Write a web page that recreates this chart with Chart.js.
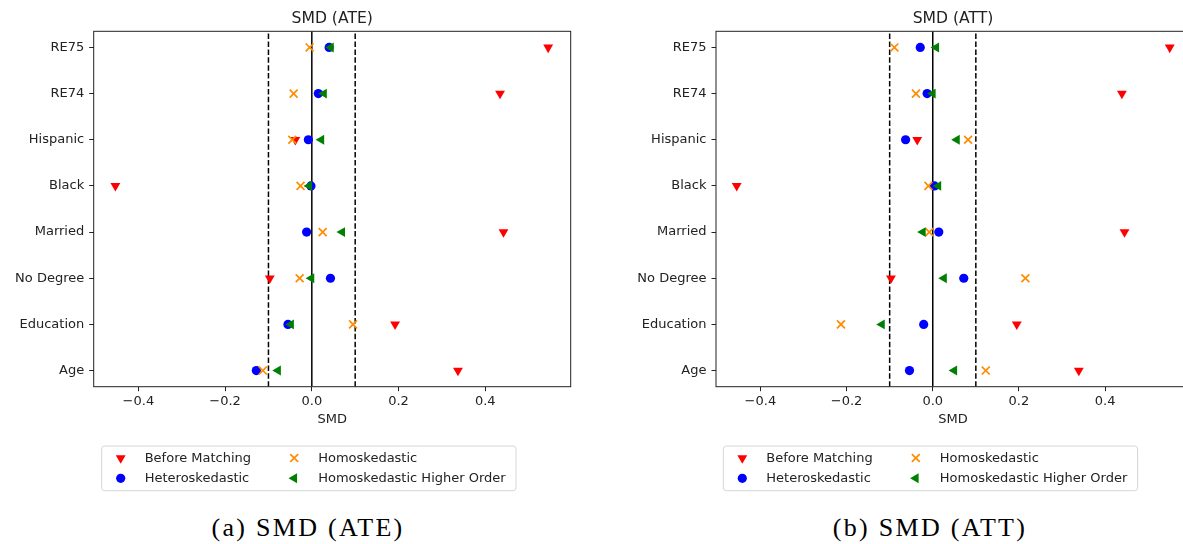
<!DOCTYPE html>
<html>
<head>
<meta charset="utf-8">
<script src="https://cdn.jsdelivr.net/npm/chart.js@4.4.1/dist/chart.umd.min.js"></script>
<style>
  html, body { margin: 0; padding: 0; background: #fff; overflow: hidden; }
  #wrap { position: relative; width: 1183px; height: 544px; overflow: hidden; }
  canvas { position: absolute; top: 0; }
  .caption {
    position: absolute; top: 515px; width: 400px; text-align: center;
    font-family: "Liberation Serif", serif; font-size: 26px; line-height: 25px;
    letter-spacing: 2.3px; color: #000;
  }
</style>
</head>
<body>
<div id="wrap">
  <canvas id="ate" width="591" height="500" style="left:0"></canvas>
  <canvas id="att" width="610" height="500" style="left:591px"></canvas>
  <div class="caption" style="left:108px">(a) SMD (ATE)</div>
  <div class="caption" style="left:730px">(b) SMD (ATT)</div>
</div>
<script>
// covariates, bottom to top
const covariates = ["Age", "Education", "No Degree", "Married", "Black", "Hispanic", "RE74", "RE75"];
const seriesNames = ["Before Matching", "Heteroskedastic", "Homoskedastic", "Homoskedastic Higher Order"];
const xTicks = [-0.4, -0.2, 0.0, 0.2, 0.4];
const xLimits = [-0.503, 0.597];
const thresholds = [-0.1, 0.1];

// SMD (ATE)
const ateBefore = [0.337, 0.192, -0.097, 0.442, -0.453, -0.038, 0.434, 0.545];
const ateHetero = [-0.128, -0.055, 0.043, -0.012, -0.002, -0.008, 0.015, 0.040];
const ateHomo = [-0.113, 0.095, -0.028, 0.025, -0.026, -0.045, -0.042, -0.005];
const ateHigher = [-0.078, -0.048, -0.001, 0.070, -0.006, 0.022, 0.028, 0.044];

// SMD (ATT)
const attBefore = [0.339, 0.195, -0.097, 0.445, -0.455, -0.036, 0.439, 0.550];
const attHetero = [-0.054, -0.021, 0.072, 0.014, 0.004, -0.063, -0.013, -0.029];
const attHomo = [0.123, -0.213, 0.215, -0.008, -0.010, 0.082, -0.039, -0.089];
const attHigher = [0.050, -0.118, 0.026, -0.023, 0.013, 0.056, 0.000, 0.008];

Chart.defaults.font.family = "'DejaVu Sans', sans-serif";
Chart.defaults.font.size = 13;
Chart.defaults.color = "#222";

const markerStyles = [
  { pointStyle: "triangle", rotation: 180, radius: 5.7, color: "#ff0000", borderWidth: 0 },
  { pointStyle: "circle", rotation: 0, radius: 4.6, color: "#0000ff", borderWidth: 0 },
  { pointStyle: "crossRot", rotation: 0, radius: 5.6, color: "#ff8c00", borderWidth: 1.7 },
  { pointStyle: "triangle", rotation: 270, radius: 5.7, color: "#008000", borderWidth: 0 },
];

// frame, title and a matplotlib-like legend
const decor = {
  id: "decor",
  afterDatasetsDraw(chart, args, opts) {
    const { ctx, chartArea: a } = chart;
    ctx.save();
    ctx.strokeStyle = "#222";
    ctx.lineWidth = 1;
    ctx.strokeRect(a.left, a.top, a.right - a.left, a.bottom - a.top);
    ctx.restore();
  },
  afterDraw(chart, args, opts) {
    const { ctx, chartArea: a } = chart;
    ctx.save();
    ctx.fillStyle = "#222";
    ctx.font = "15.6px 'DejaVu Sans', sans-serif";
    ctx.textAlign = "center";
    ctx.textBaseline = "middle";
    ctx.fillText(opts.title, (a.left + a.right) / 2, 18.5);

    // legend box
    const bx = opts.legendX, by = 446, bw = 414.3, bh = 44.7;
    ctx.beginPath();
    ctx.roundRect(bx, by, bw, bh, 3);
    ctx.fillStyle = "rgba(255,255,255,0.8)";
    ctx.fill();
    ctx.strokeStyle = "#d6d6d6";
    ctx.lineWidth = 1;
    ctx.stroke();

    ctx.font = "13px 'DejaVu Sans', sans-serif";
    ctx.textAlign = "left";
    seriesNames.forEach((name, i) => {
      const col = Math.floor(i / 2), row = i % 2;
      const mx = bx + 19 + col * 173.5;
      const my = by + 12 + row * 20.3;
      const m = markerStyles[i];
      ctx.fillStyle = m.color;
      ctx.strokeStyle = m.color;
      ctx.lineWidth = m.borderWidth;
      Chart.helpers.drawPoint(ctx, { pointStyle: m.pointStyle, rotation: m.rotation, radius: m.radius, borderWidth: m.borderWidth }, mx, my);
      ctx.fillStyle = "#222";
      ctx.fillText(name, mx + 24, my + 0.5);
    });
    ctx.restore();
  },
};

function makeChart(id, seriesValues, title, yWidth, padRight, legendX) {
  const datasets = seriesValues.map((vals, i) => {
    const m = markerStyles[i];
    return {
      label: seriesNames[i],
      data: vals.map((v, k) => ({ x: v, y: k })),
      pointStyle: m.pointStyle,
      pointRotation: m.rotation,
      pointRadius: m.radius,
      pointBackgroundColor: m.color,
      pointBorderColor: m.color,
      pointBorderWidth: m.borderWidth,
      order: 4 - i,
    };
  });
  const yLo = -0.35, yHi = covariates.length - 1 + 0.35;
  thresholds.concat([0]).forEach((t) => {
    datasets.push({
      data: [{ x: t, y: yLo }, { x: t, y: yHi }],
      showLine: true,
      borderColor: "#000",
      borderWidth: 1.5,
      borderDash: t === 0 ? [] : [5.5, 2.4],
      pointRadius: 0,
      order: 10,
    });
  });

  return new Chart(document.getElementById(id), {
    type: "scatter",
    data: { datasets },
    options: {
      responsive: false,
      animation: false,
      events: [],
      devicePixelRatio: 1,
      layout: { padding: { left: 0, top: 31.3, right: padRight, bottom: 68.3 } },
      plugins: {
        legend: { display: false },
        tooltip: { enabled: false },
        decor: { title: title, legendX: legendX },
      },
      scales: {
        x: {
          type: "linear",
          min: xLimits[0],
          max: xLimits[1],
          afterBuildTicks: (s) => { s.ticks = xTicks.map((v) => ({ value: v })); },
          afterFit: (s) => { s.height = 45; },
          ticks: {
            padding: 3,
            callback: (v) => v.toFixed(1).replace("-", "\u2212"),
          },
          grid: { drawOnChartArea: false, drawTicks: true, tickLength: 4.5, color: "#222" },
          border: { display: false },
          title: { display: true, text: "SMD", padding: { top: 0, bottom: 3.9 } },
        },
        y: {
          type: "linear",
          min: yLo,
          max: yHi,
          afterBuildTicks: (s) => { s.ticks = covariates.map((c, k) => ({ value: k })); },
          afterFit: (s) => { s.width = yWidth; },
          ticks: { padding: 5, callback: (v) => covariates[v] },
          grid: { drawOnChartArea: false, drawTicks: true, tickLength: 4.5, color: "#222" },
          border: { display: false },
        },
      },
    },
    plugins: [decor],
  });
}

makeChart("ate", [ateBefore, ateHetero, ateHomo, ateHigher], "SMD (ATE)", 93.7, 20.3, 101.7);
makeChart("att", [attBefore, attHetero, attHomo, attHigher], "SMD (ATT)", 125, 11, 132.3);
</script>
</body>
</html>
